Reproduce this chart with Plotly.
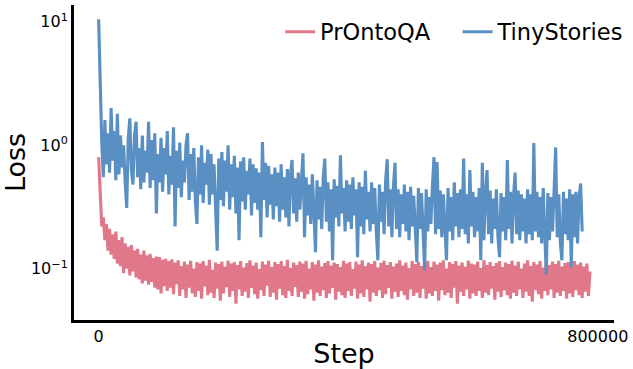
import plotly.graph_objects as go

# Logged training steps (every 2500 steps)
STEP_INTERVAL = 2500

tinystories_loss = [
    10.5, 2.4, 1.05, 0.55, 1.6, 0.7, 1.25, 0.6, 2.0, 0.75, 1.3, 0.52, 1.8, 0.58, 1.2, 0.66,
    1.0, 0.5, 0.31, 1.15, 1.65, 0.62, 0.48, 1.2, 1.55, 0.55, 0.95, 0.44, 1.2, 0.5, 0.9, 0.6,
    1.55, 0.45, 1.1, 0.52, 1.25, 0.28, 0.85, 0.5, 1.15, 0.42, 0.95, 0.58, 1.3, 0.4, 0.82, 0.48,
    1.4, 0.22, 0.9, 0.45, 1.05, 0.38, 0.75, 0.5, 1.0, 1.25, 0.36, 0.85, 0.42, 0.95, 0.35, 0.23,
    0.8, 0.4, 1.0, 0.34, 0.72, 0.48, 0.92, 0.33, 0.85, 0.4, 0.7, 0.3, 0.14, 0.78, 0.36, 0.88,
    0.32, 0.75, 0.42, 1.0, 0.3, 0.7, 0.38, 0.82, 0.28, 0.66, 0.17, 0.74, 0.35, 0.8, 0.3, 0.62,
    0.4, 0.78, 0.27, 0.7, 0.34, 0.65, 0.3, 0.6, 0.18, 1.06, 0.36, 0.72, 0.26, 0.68, 0.33, 0.58,
    0.25, 0.66, 0.32, 0.6, 0.24, 0.7, 0.3, 0.55, 0.26, 0.64, 0.22, 0.58, 0.76, 0.28, 0.54, 0.24,
    0.6, 0.3, 0.5, 0.86, 0.18, 0.55, 0.27, 0.48, 0.23, 0.58, 0.29, 0.136, 0.52, 0.25, 0.46, 0.21,
    0.55, 0.78, 0.24, 0.5, 0.2, 0.44, 0.117, 0.53, 0.26, 0.47, 0.22, 0.83, 0.28, 0.45, 0.2, 0.52,
    0.24, 0.48, 0.21, 0.55, 0.27, 0.44, 0.124, 0.5, 0.22, 0.46, 0.19, 0.62, 0.25, 0.42, 0.2, 0.5,
    0.23, 0.45, 0.2, 0.117, 0.48, 0.24, 0.42, 0.19, 0.52, 0.77, 0.22, 0.44, 0.18, 0.47, 0.72, 0.21,
    0.44, 0.18, 0.4, 0.23, 0.48, 0.2, 0.42, 0.17, 0.46, 0.22, 0.39, 0.19, 0.113, 0.45, 0.21, 0.41,
    0.18, 0.097, 0.44, 0.2, 0.38, 0.23, 0.47, 0.8, 0.19, 0.73, 0.21, 0.43, 0.18, 0.4, 0.22, 0.117,
    0.45, 0.2, 0.38, 0.17, 0.5, 0.22, 0.41, 0.18, 0.44, 0.21, 0.78, 0.19, 0.4, 0.16, 0.63, 0.22,
    0.42, 0.18, 0.38, 0.2, 0.45, 0.117, 0.72, 0.17, 0.4, 0.63, 0.19, 0.43, 0.16, 0.37, 0.21, 0.44,
    0.18, 0.124, 0.41, 0.2, 0.38, 0.17, 0.76, 0.21, 0.42, 0.16, 0.39, 0.6, 0.19, 0.43, 0.17, 0.4,
    0.2, 0.37, 0.16, 0.44, 0.19, 0.4, 0.17, 1.04, 0.2, 0.42, 0.18, 0.38, 0.16, 0.45, 0.19, 0.089,
    0.41, 0.17, 0.38, 0.2, 0.43, 0.96, 0.18, 0.4, 0.16, 0.117, 0.42, 0.19, 0.37, 0.17, 0.44, 0.103,
    0.4, 0.18, 0.42, 0.16, 0.38, 0.49, 0.2,
]

prontoqa_loss = [
    0.8, 0.35, 0.22, 0.26, 0.17, 0.23, 0.14, 0.21, 0.13, 0.19, 0.12, 0.2, 0.11, 0.17, 0.105, 0.18,
    0.092, 0.16, 0.1, 0.15, 0.088, 0.155, 0.095, 0.14, 0.085, 0.145, 0.082, 0.13, 0.076, 0.14, 0.08, 0.128,
    0.074, 0.132, 0.078, 0.122, 0.07, 0.125, 0.068, 0.124, 0.063, 0.118, 0.072, 0.12, 0.066, 0.115, 0.07, 0.119,
    0.062, 0.112, 0.075, 0.117, 0.06, 0.105, 0.068, 0.114, 0.058, 0.108, 0.07, 0.116, 0.063, 0.1, 0.059, 0.113,
    0.066, 0.11, 0.057, 0.115, 0.072, 0.106, 0.061, 0.118, 0.064, 0.098, 0.058, 0.112, 0.069, 0.109, 0.055, 0.114,
    0.063, 0.104, 0.071, 0.116, 0.059, 0.11, 0.066, 0.113, 0.052, 0.107, 0.068, 0.115, 0.06, 0.102, 0.065, 0.111,
    0.058, 0.117, 0.07, 0.106, 0.062, 0.112, 0.057, 0.099, 0.067, 0.114, 0.06, 0.108, 0.073, 0.116, 0.059, 0.103,
    0.064, 0.113, 0.056, 0.109, 0.069, 0.115, 0.061, 0.105, 0.058, 0.118, 0.066, 0.101, 0.06, 0.112, 0.071, 0.107,
    0.059, 0.114, 0.065, 0.11, 0.057, 0.116, 0.062, 0.1, 0.068, 0.113, 0.055, 0.108, 0.064, 0.117, 0.06, 0.104,
    0.067, 0.111, 0.058, 0.115, 0.063, 0.106, 0.07, 0.112, 0.056, 0.109, 0.065, 0.103, 0.061, 0.116, 0.058, 0.11,
    0.066, 0.113, 0.06, 0.099, 0.069, 0.114, 0.057, 0.108, 0.063, 0.117, 0.059, 0.105, 0.068, 0.112, 0.054, 0.109,
    0.064, 0.115, 0.06, 0.102, 0.067, 0.111, 0.058, 0.116, 0.062, 0.107, 0.07, 0.113, 0.057, 0.104, 0.065, 0.11,
    0.059, 0.117, 0.066, 0.106, 0.061, 0.112, 0.056, 0.101, 0.068, 0.115, 0.06, 0.109, 0.064, 0.113, 0.058, 0.105,
    0.069, 0.111, 0.057, 0.116, 0.063, 0.103, 0.06, 0.114, 0.066, 0.108, 0.055, 0.112, 0.067, 0.117, 0.061, 0.1,
    0.064, 0.113, 0.058, 0.109, 0.07, 0.115, 0.052, 0.106, 0.065, 0.112, 0.06, 0.104, 0.068, 0.116, 0.057, 0.11,
    0.063, 0.108, 0.06, 0.114, 0.066, 0.101, 0.058, 0.117, 0.064, 0.107, 0.061, 0.113, 0.069, 0.105, 0.056, 0.111,
    0.065, 0.115, 0.059, 0.103, 0.067, 0.112, 0.061, 0.109, 0.057, 0.116, 0.064, 0.106, 0.06, 0.114, 0.068, 0.1,
    0.058, 0.11, 0.065, 0.117, 0.06, 0.105, 0.054, 0.113, 0.067, 0.108, 0.062, 0.115, 0.057, 0.102, 0.066, 0.112,
    0.061, 0.107, 0.068, 0.114, 0.058, 0.109, 0.064, 0.116, 0.06, 0.104, 0.066, 0.111, 0.057, 0.113, 0.063, 0.106,
    0.059, 0.115, 0.067, 0.108, 0.061, 0.112, 0.058, 0.104, 0.065, 0.11, 0.06, 0.095,
]

tinystories_steps = [i * STEP_INTERVAL for i in range(len(tinystories_loss))]
prontoqa_steps = [i * STEP_INTERVAL for i in range(len(prontoqa_loss))]

x_tick_vals = [0, 800000]
x_tick_text = ["0", "800000"]
y_tick_vals = [0.1, 1, 10]
y_tick_text = ["10<sup>−1</sup>", "10<sup>0</sup>", "10<sup>1</sup>"]

PINK = "#E0788A"
BLUE = "#5A8FC3"
FONT = "DejaVu Sans"

fig = go.Figure()
fig.add_trace(go.Scatter(x=prontoqa_steps, y=prontoqa_loss, mode="lines",
                         name="PrOntoQA", legend="legend",
                         line=dict(color=PINK, width=3.1)))
fig.add_trace(go.Scatter(x=tinystories_steps, y=tinystories_loss, mode="lines",
                         name="TinyStories", legend="legend2",
                         line=dict(color=BLUE, width=3.1)))

legend_common = dict(orientation="h", xanchor="left", yanchor="middle",
                     font=dict(size=22.5, family=FONT), itemwidth=30,
                     bgcolor="rgba(0,0,0,0)")

fig.update_layout(
    width=633, height=369,
    margin=dict(l=74, r=18, t=5, b=49),
    paper_bgcolor="white", plot_bgcolor="white",
    font=dict(family=FONT, color="black"),
    showlegend=True,
    legend=dict(x=0.381, y=0.914, **legend_common),
    legend2=dict(x=0.709, y=0.914, **legend_common),
    xaxis=dict(range=[-39500, 826000], showgrid=False, zeroline=False,
               showline=True, linecolor="black", linewidth=3, automargin=False,
               tickvals=x_tick_vals, ticktext=x_tick_text, ticks="",
               tickfont=dict(size=16), title=dict(text="Step", font=dict(size=27), standoff=2)),
    yaxis=dict(type="log", range=[-1.416, 1.136], showgrid=False, zeroline=False,
               showline=True, linecolor="black", linewidth=3, automargin=False,
               tickvals=y_tick_vals, ticktext=y_tick_text, ticks="",
               tickfont=dict(size=16), title=dict(text="Loss", font=dict(size=27), standoff=10)),
)

fig.write_html("out.html", config={"displayModeBar": False},
               post_script="document.body.style.margin='0';")
